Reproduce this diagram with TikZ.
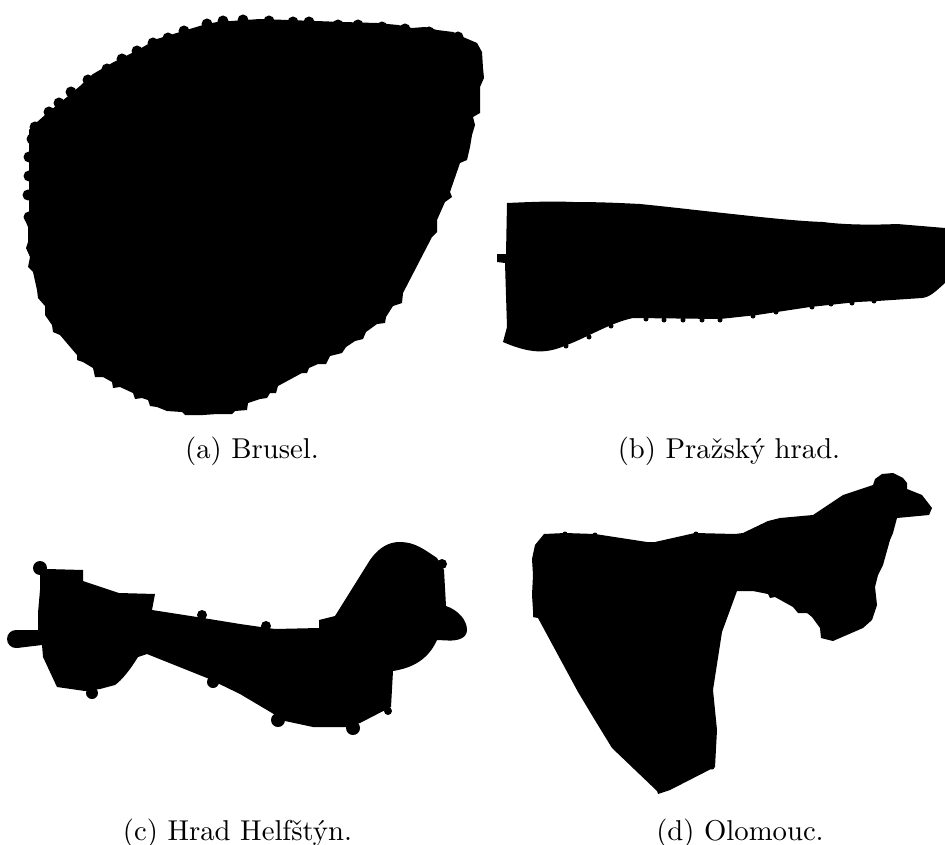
\documentclass[tikz,border=0pt]{standalone}
\begin{document}
\begin{tikzpicture}[x=1pt,y=-1pt,
  blob/.style={fill=black,draw=none},
  caption/.style={scale=2.87,anchor=base,inner sep=0pt}]
\useasboundingbox (0,0) rectangle (945,845);
% (a) Brusel
\fill[blob] (260,19) -- (343,22) -- (377,23) -- (398,25) -- (412,28) -- (425,27) -- (437,30) -- (453,32) -- (463,37) -- (477,43) -- (482,52) -- (483,68) -- (484,78) -- (480,87) -- (480,113) -- (473,117) -- (475,125) -- (472,135) -- (470,147) -- (467,160) -- (460,163) -- (450,192) -- (452,197) -- (445,202) -- (437,220) -- (437,232) -- (432,237) -- (403,293) -- (402,303) -- (393,306) -- (386,317) -- (385,323) -- (377,324) -- (366,332) -- (363,339) -- (355,341) -- (346,347) -- (342,353) -- (330,356) -- (326,364) -- (318,364) -- (309,368) -- (307,373) -- (302,373) -- (278,386) -- (276,393) -- (270,393) -- (267,398) -- (260,399) -- (248,403) -- (247,410) -- (235,411) -- (232,414) -- (217,414) -- (203,415) -- (185,415) -- (182,412) -- (167,411) -- (157,407) -- (150,406) -- (148,400) -- (142,398) -- (135,399) -- (133,393) -- (120,387) -- (113,388) -- (112,382) -- (103,377) -- (95,377) -- (93,368) -- (83,362) -- (77,360) -- (77,355) -- (60,335) -- (53,332) -- (52,325) -- (45,315) -- (45,306) -- (38,298) -- (37,290) -- (33,272) -- (28,267) -- (30,257) -- (26,248) -- (28,242) -- (28,227) -- (25,220) -- (29,214) -- (29,130) -- (36,123) -- (45,115) -- (67,97) -- (80,86) -- (93,74) -- (112,63) -- (118,60) -- (132,53) -- (143,47) -- (157,39) -- (180,32) -- (203,25) -- (217,22) -- cycle;
\foreach \x/\y in {243/20,223/21,207/24,184/31,168/38,153/43,137/51,122/59,107/69,88/80,71/92,59/103,49/112,35/127,32/139,29/157,29/176,28/195,29/217,269/21,293/22,309/22,338/25,358/25,382/27,405/29,429/32,458/37}
  \fill[blob] (\x,\y) circle (5.5);
% (b) Prazsky hrad
\fill[blob] (507,203) .. controls (530,202) and (550,201) .. (573,202) .. controls (600,202) and (620,203) .. (640,204) .. controls (670,207) and (695,210) .. (723,213) .. controls (760,217) and (795,221) .. (823,222) .. controls (845,225) and (875,225) .. (897,224) -- (945,228) -- (945,283) .. controls (935,292) and (930,297) .. (922,298) -- (877,301) -- (857,302) -- (810,307) -- (757,315) -- (720,319) -- (633,318) .. controls (610,323) and (590,336) .. (567,345) .. controls (550,352) and (535,356) .. (503,342) -- (507,327) -- (505,263) -- (497,262) -- (497,254) -- (506,254) -- cycle;
\foreach \x/\y in {874/301,852/303,831/304,812/307,776/312,753/316,720/320,702/320,683/320,664/320,646/319,611/326,589/337,566/346}
  \fill[blob] (\x,\y) circle (2.5);
% (c) Hrad Helfstyn
\fill[blob] (47,569) -- (83,570) -- (83,581) -- (119,593) -- (155,594) -- (152,610) -- (197,617) -- (240,624) -- (275,629) -- (319,628) -- (319,620) -- (335,616) -- (370,560) .. controls (380,546) and (390,542) .. (400,542) .. controls (415,542) and (425,550) .. (437,558) -- (444,570) -- (446,606) .. controls (458,610) and (467,620) .. (467,630) .. controls (467,638) and (458,641) .. (448,640.5) -- (437,640) .. controls (428,660) and (412,668) .. (393,671) -- (391,707) -- (360,723) -- (347,727) -- (313,727) -- (285,721) -- (272,713) -- (240,694) -- (207,678) -- (147,654) -- (138,657) .. controls (130,670) and (122,680) .. (115,685) -- (100,689) -- (85,691) -- (57,687) -- (43,657) -- (42,645) -- (17,648) -- (17,630) -- (38,630) -- (38,613) -- (40,590) -- (40,575) -- cycle;
\foreach \x/\y/\r in {40/568/7,16/639/9,202/615/5,92/693/6,213/682/6,266/626/5,442/564/5,388/711/4,353/728/7,278/720/7}
  \fill[blob] (\x,\y) circle (\r);
% (d) Olomouc
\fill[blob] (544,534) -- (565,533) -- (595,534) -- (647,542) -- (655,542) -- (695,533) -- (735,534) -- (743,533) -- (768,521) -- (780,518) -- (813,515) -- (843,495) -- (873,485) -- (875,479) -- (882,474) -- (893,473) -- (903,478) -- (907,483) -- (907,489) -- (922,495) -- (932,508) -- (929,515) -- (897,518) -- (893,533) -- (890,540) -- (883,565) -- (878,575) -- (875,587) -- (877,605) -- (872,620) -- (863,628) -- (833,641) -- (821,638) -- (820,628) -- (812,617) -- (807,613) -- (798,613) -- (793,607) -- (775,597) -- (770,598) -- (768,594) -- (753,591) -- (737,591) -- (722,632) -- (715,677) -- (713,690) -- (717,730) -- (715,767) -- (670,790) -- (658,794) -- (657,791) -- (634,769) -- (612,748) -- (593,717) -- (578,692) -- (538,618) -- (533,617) -- (533,610) -- (532,595) -- (533,575) -- (532,559) -- (535,545) -- cycle;
\foreach \x/\y in {712/767,565/534,595/535,696/534}
  \fill[blob] (\x,\y) circle (2.5);
% captions
\node[caption] (capa) at (252,458) {(a) Brusel.};
\node[caption] (capb) at (729,458) {(b) Pražský hrad.};
\node[caption] (capc) at (237.5,840) {(c) Hrad Helfštýn.};
\node[caption] (capd) at (740,840) {(d) Olomouc.};
\end{tikzpicture}
\end{document}
